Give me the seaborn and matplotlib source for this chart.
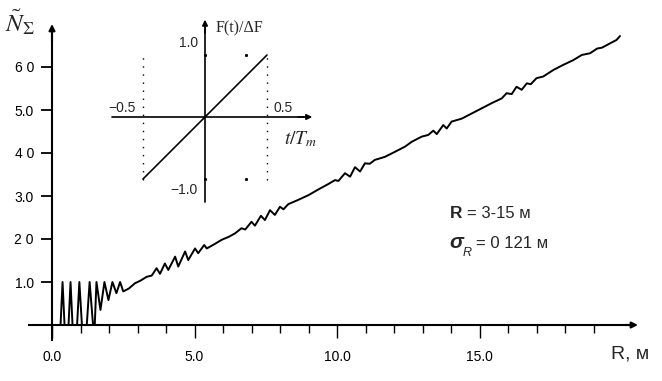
import pandas as pd
import seaborn as sns
import matplotlib.pyplot as plt

# main curve (R in metres, N~sigma)
r_m = [0.00, 0.30, 0.37, 0.44, 0.58, 0.65, 0.72, 0.88, 0.96, 1.05,
       1.22, 1.32, 1.44, 1.50, 1.56, 1.70, 1.84, 1.98, 2.12, 2.26,
       2.39, 2.50, 2.70, 2.91, 3.10, 3.32, 3.50, 3.67, 3.79, 3.96,
       4.08, 4.32, 4.43, 4.67, 4.78, 5.02, 5.13, 5.34, 5.43, 5.70,
       5.95, 6.20, 6.42, 6.65, 6.78, 7.00, 7.12, 7.33, 7.47, 7.65,
       7.82, 8.00, 8.12, 8.29, 8.64, 9.00, 9.34, 9.70, 9.93, 10.05,
       10.28, 10.46, 10.63, 10.81, 10.98, 11.15, 11.33, 11.68, 12.04, 12.39,
       12.62, 12.97, 13.20, 13.38, 13.50, 13.73, 13.85, 14.02, 14.38, 14.73,
       15.08, 15.43, 15.78, 15.95, 16.13, 16.30, 16.48, 16.66, 16.80, 17.00,
       17.24, 17.59, 17.94, 18.29, 18.59, 18.88, 19.13, 19.30, 19.58, 19.81,
       19.93]
n_sigma = [0.00, 0.00, 1.00, 0.00, 0.00, 1.00, 0.00, 0.00, 1.00, 0.00,
           0.00, 1.00, 0.00, 0.00, 1.00, 0.35, 1.00, 0.58, 1.00, 0.74,
           1.00, 0.78, 0.85, 0.97, 1.03, 1.12, 1.15, 1.32, 1.19, 1.43,
           1.28, 1.59, 1.36, 1.71, 1.51, 1.78, 1.67, 1.86, 1.78, 1.88,
           1.98, 2.05, 2.13, 2.25, 2.22, 2.40, 2.31, 2.54, 2.44, 2.67,
           2.56, 2.75, 2.69, 2.81, 2.91, 3.02, 3.15, 3.28, 3.37, 3.35,
           3.53, 3.45, 3.67, 3.57, 3.76, 3.75, 3.84, 3.91, 4.03, 4.15,
           4.26, 4.38, 4.42, 4.52, 4.44, 4.65, 4.57, 4.73, 4.80, 4.92,
           5.04, 5.16, 5.27, 5.39, 5.37, 5.54, 5.47, 5.62, 5.60, 5.74,
           5.78, 5.93, 6.05, 6.16, 6.28, 6.32, 6.43, 6.45, 6.55, 6.63,
           6.72]

x_major = [0, 5, 10, 15]
x_major_labels = ['0.0', '5.0', '10.0', '15.0']
x_minor = [1, 2, 3, 4, 6, 7, 8, 9, 11, 12, 13, 14, 16, 17, 18, 19]
y_major = [1, 2, 3, 4, 5, 6]
y_major_labels = ['1.0', '2 0', '3.0', '4 0', '5.0', '6 0']

# inset: linear frequency sweep F(t)/dF against t/Tm
inset_t = [-0.5, 0.5]
inset_f = [-1.0, 1.0]
inset_grid_t = [-0.5, 0.5]
inset_dot_t = [0.0, 0.33, 0.0, 0.33]
inset_dot_f = [1.0, 1.0, -1.0, -1.0]

W, H = 662, 381


def fx(x):
    return x / W


def fy(y):
    return 1 - y / H


sns.set_style('ticks')
plt.rcParams['font.family'] = ['Liberation Sans', 'DejaVu Sans']
plt.rcParams['mathtext.fontset'] = 'stix'

fig = plt.figure(figsize=(W / 100, H / 100), dpi=100)

# main axes fill the figure: 28.5 px per metre, 43 px per unit of N
ax = fig.add_axes([0, 0, 1, 1])
ax.patch.set_alpha(0)
df = pd.DataFrame({'R': r_m, 'N': n_sigma})
sns.lineplot(data=df, x='R', y='N', ax=ax, color='black', linewidth=1.4,
             estimator=None, sort=False)
ax.set_xlim(-52 / 28.5, 610 / 28.5)
ax.set_ylim(-56 / 43, 325 / 43)
ax.set_xlabel('')
ax.set_ylabel('')

for side in ['top', 'right']:
    ax.spines[side].set_visible(False)
ax.spines['left'].set_position(('data', 0))
ax.spines['bottom'].set_position(('data', 0))
ax.spines['bottom'].set_bounds(-0.8, 20.3)
ax.spines['left'].set_bounds(-0.35, 6.75)
for side in ['left', 'bottom']:
    ax.spines[side].set_linewidth(1.5)
    ax.spines[side].set_color('black')
ax.annotate('', xy=(20.56, 0), xytext=(20.1, 0),
            arrowprops=dict(arrowstyle='-|>', color='black', lw=1.5,
                            mutation_scale=9, shrinkA=0, shrinkB=0))
ax.annotate('', xy=(0, 7.0), xytext=(0, 6.6),
            arrowprops=dict(arrowstyle='-|>', color='black', lw=1.5,
                            mutation_scale=9, shrinkA=0, shrinkB=0))

ax.set_xticks(x_major, x_major_labels)
ax.set_xticks(x_minor, minor=True)
ax.set_yticks(y_major, y_major_labels)
ax.tick_params(axis='x', which='major', direction='out', length=9.5, width=1,
               pad=8.5, labelsize=10, colors='black')
ax.tick_params(axis='x', which='minor', direction='out', length=6, width=1,
               colors='black')
ax.tick_params(axis='y', which='major', direction='out', length=8, width=1.3,
               pad=5, labelsize=10, colors='black')

# inset with the sweep law
in_ax = fig.add_axes([fx(105.8), fy(210), (316.6 - 105.8) / W, (210 - 14.7) / H])
in_ax.set_xlim(-0.8, 0.9)
in_ax.set_ylim(-1.5, 1.65)
in_ax.axis('off')
sns.lineplot(x=inset_t, y=inset_f, ax=in_ax, color='black', linewidth=1.2,
             estimator=None)
in_ax.plot([-0.75, 0.8], [0, 0], color='black', lw=1.2)
in_ax.plot([0, 0], [-1.37, 1.45], color='black', lw=1.2)
in_ax.annotate('', xy=(0.865, 0), xytext=(0.75, 0),
               arrowprops=dict(arrowstyle='-|>', color='black', lw=1.2,
                               mutation_scale=8, shrinkA=0, shrinkB=0))
in_ax.annotate('', xy=(0, 1.57), xytext=(0, 1.35),
               arrowprops=dict(arrowstyle='-|>', color='black', lw=1.2,
                               mutation_scale=8, shrinkA=0, shrinkB=0))
in_ax.vlines(inset_grid_t, -1.02, 1.03, colors='black', lw=1,
             linestyles=(0, (1, 4.8)))
in_ax.plot(inset_dot_t, inset_dot_f, 's', color='black', markersize=1.1)

# texts placed in figure pixels
fig.text(fx(5), fy(22), r'$\tilde{N}_{\Sigma}$', fontsize=18, ha='left', va='center')
fig.text(fx(198), fy(43), '1.0', fontsize=10, ha='right', va='center')
fig.text(fx(198), fy(190), '\u22121.0', fontsize=10, ha='right', va='center')
fig.text(fx(122), fy(108), '\u22120.5', fontsize=10, ha='center', va='center')
fig.text(fx(283), fy(108), '0.5', fontsize=10, ha='center', va='center')
fig.text(fx(216), fy(28), 'F(t)/\u0394F', fontsize=11.5, ha='left', va='center',
         family='Liberation Serif')
fig.text(fx(284), fy(139), r'$t/T_{m}$', fontsize=14, ha='left', va='center')

fig.text(fx(630), fy(354), 'R, м', fontsize=14, ha='center', va='center')
fig.text(fx(450), fy(214), 'R', fontsize=12.5, fontweight='bold', ha='left', va='center')
fig.text(fx(467), fy(214), '= 3-15 м', fontsize=12, ha='left', va='center')
fig.text(fx(449), fy(243), 'σ', fontsize=15, fontweight='bold', fontstyle='italic',
         ha='left', va='center')
fig.text(fx(463), fy(253), 'R', fontsize=9, fontstyle='italic', ha='left', va='center')
fig.text(fx(476), fy(243), '= 0 121 м', fontsize=12, ha='left', va='center')

fig.savefig('out.png', dpi=100)
